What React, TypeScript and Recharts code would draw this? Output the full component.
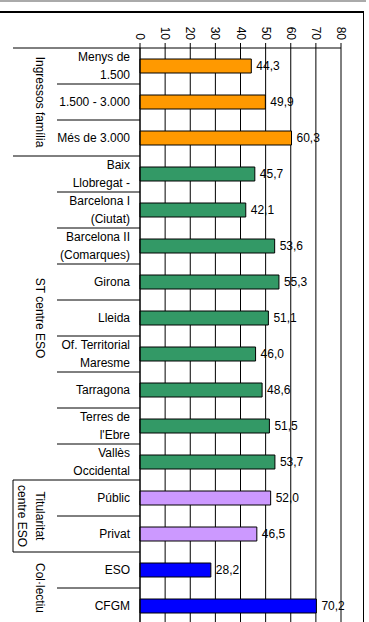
import { BarChart, Bar, XAxis, YAxis, CartesianGrid, Cell, LabelList } from "recharts";

const categories = [
  "Menys de\n1.500",
  "1.500 - 3.000",
  "Més de 3.000",
  "Baix\nLlobregat -",
  "Barcelona I\n(Ciutat)",
  "Barcelona II\n(Comarques)",
  "Girona",
  "Lleida",
  "Of. Territorial\nMaresme",
  "Tarragona",
  "Terres de\nl'Ebre",
  "Vallès\nOccidental",
  "Públic",
  "Privat",
  "ESO",
  "CFGM",
];

const values = [44.3, 49.9, 60.3, 45.7, 42.1, 53.6, 55.3, 51.1, 46.0, 48.6, 51.5, 53.7, 52.0, 46.5, 28.2, 70.2];

const groupNames = [["Ingressos família"], ["ST centre ESO"], ["Titularitat", "centre ESO"], ["Col·lectiu"]];
const groupSizes = [3, 9, 2, 2];
const groupColors = ["#FF9900", "#339966", "#CC99FF", "#0000FF"];

const xTicks = [0, 10, 20, 30, 40, 50, 60, 70, 80];

const FONT = "'Liberation Sans', Arial, sans-serif";
const BAND = 36;

// index of the group each category belongs to
const groupOf: number[] = [];
const groupStart: number[] = [];
groupSizes.forEach((n, g) => {
  groupStart.push(groupOf.length);
  for (let k = 0; k < n; k++) groupOf.push(g);
});

const data = categories.map((name, i) => ({
  name,
  value: values[i],
  color: groupColors[groupOf[i]],
}));

function CategoryTick(props: any) {
  const { y, payload } = props;
  const i = categories.indexOf(payload.value);
  const lines = categories[i].split("\n");
  const g = groupOf[i];
  const first = groupStart[g] === i;
  const top = y - BAND / 2;
  const groupMid = top + (groupSizes[g] * BAND) / 2;
  const gLines = groupNames[g];

  return (
    <g>
      <line x1={first ? 13 : 57} x2={140} y1={top} y2={top} stroke="#000" />
      {lines.map((l, k) => (
        <text
          key={k}
          x={130}
          y={y + (k - (lines.length - 1) / 2) * 18}
          textAnchor="end"
          dominantBaseline="central"
          fontSize={12}
          fontFamily={FONT}
          fill="#000"
        >
          {l}
        </text>
      ))}
      {first && gLines.length > 1 && (
        <line x1={13} x2={13} y1={top} y2={top + groupSizes[g] * BAND} stroke="#000" />
      )}
      {first &&
        gLines.map((l, k) => {
          const gx = 40 - k * 18;
          return (
            <text
              key={"g" + k}
              x={gx}
              y={groupMid}
              transform={`rotate(90, ${gx}, ${groupMid})`}
              textAnchor="middle"
              dominantBaseline="central"
              fontSize={12}
              fontFamily={FONT}
              fill="#000"
            >
              {l}
            </text>
          );
        })}
    </g>
  );
}

function ValueTick(props: any) {
  const { x, payload } = props;
  return (
    <text
      x={x}
      y={40}
      transform={`rotate(90, ${x}, 40)`}
      textAnchor="end"
      dominantBaseline="central"
      fontSize={12}
      fontFamily={FONT}
      fill="#000"
    >
      {payload.value}
    </text>
  );
}

export default function App() {
  return (
    <div style={{ position: "absolute", left: 0, top: 0, width: 369, height: 622, overflow: "hidden", background: "#fff" }}>
      <div style={{ position: "absolute", left: 0, top: 0, width: 366, height: 0, borderTop: "2px solid #aaa" }} />
      <div
        style={{
          position: "absolute",
          left: -2,
          top: 11,
          width: 364,
          height: 640,
          border: "1px solid #000",
          borderTopWidth: 2,
        }}
      />
      <BarChart
        width={369}
        height={624}
        data={data}
        layout="vertical"
        margin={{ top: 12, right: 28, bottom: 0, left: 0 }}
        style={{ position: "absolute", left: 0, top: 0 }}
      >
        <CartesianGrid horizontal={false} vertical stroke="#000" />
        <XAxis
          type="number"
          orientation="top"
          domain={[0, 80]}
          ticks={xTicks}
          height={36}
          tickSize={5}
          axisLine={{ stroke: "#000" }}
          tickLine={{ stroke: "#000" }}
          tick={(p: any) => <ValueTick {...p} />}
          interval={0}
        />
        <YAxis
          type="category"
          dataKey="name"
          width={140}
          axisLine={{ stroke: "#000" }}
          tickLine={false}
          interval={0}
          tick={(p: any) => <CategoryTick {...p} />}
        />
        <Bar dataKey="value" barSize={14} stroke="#000" strokeWidth={1} isAnimationActive={false}>
          {data.map((d, i) => (
            <Cell key={i} fill={d.color} />
          ))}
          <LabelList
            dataKey="value"
            position="right"
            offset={5}
            fill="#000"
            fontSize={12}
            fontFamily={FONT}
            formatter={(v: any) => Number(v).toFixed(1).replace(".", ",")}
          />
        </Bar>
      </BarChart>
    </div>
  );
}
